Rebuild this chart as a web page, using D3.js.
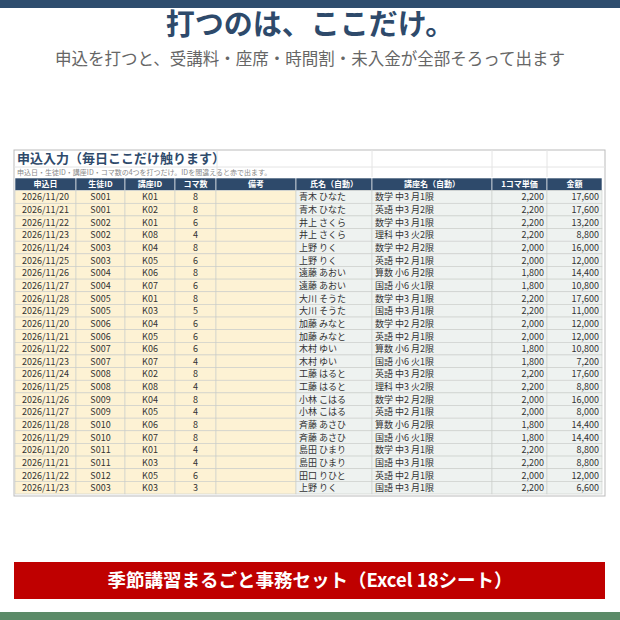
<!DOCTYPE html>
<html><head><meta charset="utf-8">
<script src="https://cdn.jsdelivr.net/npm/d3@7"></script>
<style>body{margin:0;background:#fff}svg{display:block;font-family:"Noto Sans CJK JP","DejaVu Sans",sans-serif}</style>
</head><body><div id="chart"></div>
<script>
// table data
var dates = ["2026/11/20","2026/11/21","2026/11/22","2026/11/23","2026/11/24","2026/11/25","2026/11/26","2026/11/27","2026/11/28","2026/11/29","2026/11/20","2026/11/21","2026/11/22","2026/11/23","2026/11/24","2026/11/25","2026/11/26","2026/11/27","2026/11/28","2026/11/29","2026/11/20","2026/11/21","2026/11/22","2026/11/23"];
var students = ["S001","S001","S002","S002","S003","S003","S004","S004","S005","S005","S006","S006","S007","S007","S008","S008","S009","S009","S010","S010","S011","S011","S012","S003"];
var courses = ["K01","K02","K01","K08","K04","K05","K06","K07","K01","K03","K04","K05","K06","K07","K02","K08","K04","K05","K06","K07","K01","K03","K05","K03"];
var komas = [8,8,6,4,8,6,8,6,8,5,6,6,6,4,8,4,8,4,8,8,4,4,6,3];
var names = ["青木 ひなた","青木 ひなた","井上 さくら","井上 さくら","上野 りく","上野 りく","遠藤 あおい","遠藤 あおい","大川 そうた","大川 そうた","加藤 みなと","加藤 みなと","木村 ゆい","木村 ゆい","工藤 はると","工藤 はると","小林 こはる","小林 こはる","斉藤 あさひ","斉藤 あさひ","島田 ひまり","島田 ひまり","田口 りひと","上野 りく"];
var courseNames = ["数学 中3 月1限","英語 中3 月2限","数学 中3 月1限","理科 中3 火2限","数学 中2 月2限","英語 中2 月1限","算数 小6 月2限","国語 小6 火1限","数学 中3 月1限","国語 中3 月1限","数学 中2 月2限","英語 中2 月1限","算数 小6 月2限","国語 小6 火1限","英語 中3 月2限","理科 中3 火2限","数学 中2 月2限","英語 中2 月1限","算数 小6 月2限","国語 小6 火1限","数学 中3 月1限","国語 中3 月1限","英語 中2 月1限","国語 中3 月1限"];
var unitPrices = [2200,2200,2200,2200,2000,2000,1800,1800,2200,2200,2000,2000,1800,1800,2200,2200,2000,2000,1800,1800,2200,2200,2000,2200];
var amounts = [17600,17600,13200,8800,16000,12000,14400,10800,17600,11000,12000,12000,10800,7200,17600,8800,16000,8000,14400,14400,8800,8800,12000,6600];
var headers = ["申込日","生徒ID","講座ID","コマ数","備考","氏名（自動）","講座名（自動）","1コマ単価","金額"];
var colEdges = [15,76,125,175,216,296,372,492,547,602];

var W = 620, H = 620;
var svg = d3.select("#chart").append("svg").attr("width", W).attr("height", H);
var fmt = d3.format(",");

svg.append("rect").attr("x",0).attr("y",0).attr("width",W).attr("height",8).attr("fill","#2e4d6e");
svg.append("text").attr("x",W/2).attr("y",35).attr("text-anchor","middle")
  .style("font-size","29px").style("font-weight","bold").attr("fill","#2e4a6b").text("打つのは、ここだけ。");
svg.append("text").attr("x",W/2).attr("y",65).attr("text-anchor","middle")
  .style("font-size","16.5px").attr("fill","#666").text("申込を打つと、受講料・座席・時間割・未入金が全部そろって出ます");

// table frame
var top0 = 150, right0 = 605;
svg.append("rect").attr("x",14).attr("y",top0).attr("width",right0-14).attr("height",346)
  .attr("fill","#fff").attr("stroke","#bbb");
[217,372,492,547].forEach(function(x){
  svg.append("line").attr("x1",x).attr("x2",x).attr("y1",top0).attr("y2",177).attr("stroke","#e4e4e4");
});
svg.append("line").attr("x1",14).attr("x2",right0).attr("y1",167).attr("y2",167).attr("stroke","#e4e4e4");
svg.append("text").attr("x",17).attr("y",163).style("font-size","13px").style("font-weight","bold")
  .attr("fill","#2e4a6b").text("申込入力（毎日ここだけ触ります）");
svg.append("text").attr("x",17).attr("y",175).style("font-size","7px").attr("fill","#888")
  .text("申込日・生徒ID・講座ID・コマ数の4つを打つだけ。IDを間違えると赤で出ます。");

var rows = d3.range(dates.length).map(function(i){
  return [dates[i],students[i],courses[i],komas[i],"",names[i],courseNames[i],fmt(unitPrices[i]),fmt(amounts[i])];
});

var y = d3.scaleBand().domain(d3.range(rows.length + 1)).range([178, 494]);
var x = function(c){ return colEdges[c]; };
var cw = function(c){ return colEdges[c+1]-colEdges[c]; };

// header
headers.forEach(function(h,c){
  svg.append("rect").attr("x",x(c)).attr("y",y(0)).attr("width",cw(c)).attr("height",y.bandwidth())
    .attr("fill","#2e4a6b").attr("stroke","#fff").attr("stroke-width",0.6);
  svg.append("text").attr("x",x(c)+cw(c)/2).attr("y",y(0)+y.bandwidth()/2+3).attr("text-anchor","middle")
    .style("font-size","8px").style("font-weight","bold").attr("fill","#fff").text(h);
});

rows.forEach(function(r,i){
  r.forEach(function(v,c){
    var yy = y(i+1);
    svg.append("rect").attr("x",x(c)).attr("y",yy).attr("width",cw(c)).attr("height",y.bandwidth())
      .attr("fill", c<5 ? "#fdf2d4" : "#eef2f0").attr("stroke","#c9ccc9").attr("stroke-width",0.6);
    var anchor = c<4 ? "middle" : (c>=7 ? "end" : "start");
    var tx = c<4 ? x(c)+cw(c)/2 : (c>=7 ? x(c+1)-3 : x(c)+3);
    svg.append("text").attr("x",tx).attr("y",yy+y.bandwidth()/2+3.5).attr("text-anchor",anchor)
      .style("font-size","9px").attr("fill","#333").text(v);
  });
});

// banner
svg.append("rect").attr("x",14).attr("y",562).attr("width",591).attr("height",37).attr("fill","#bf0000");
svg.append("text").attr("x",W/2).attr("y",587).attr("text-anchor","middle")
  .style("font-size","18.5px").style("font-weight","bold").attr("fill","#fff").text("季節講習まるごと事務セット（Excel 18シート）");
svg.append("rect").attr("x",0).attr("y",612).attr("width",W).attr("height",8).attr("fill","#5b8a68");
</script></body></html>
